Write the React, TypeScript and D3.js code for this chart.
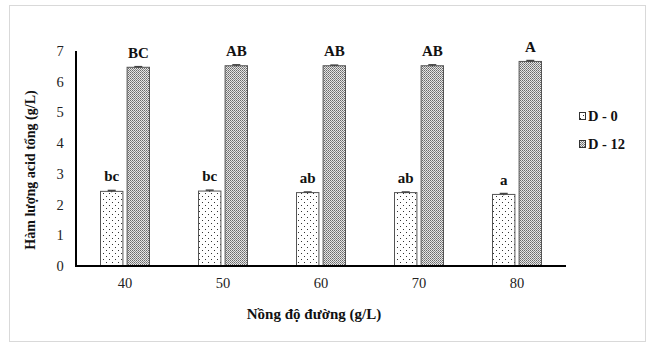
import React, { useEffect, useRef } from "react";
import * as d3 from "d3";

const categories = ["40", "50", "60", "70", "80"];
const seriesNames = ["D - 0", "D - 12"];
const d0Values = [2.43, 2.44, 2.39, 2.39, 2.33];
const d12Values = [6.47, 6.52, 6.52, 6.52, 6.66];
const d0Err = [0.03, 0.03, 0.02, 0.02, 0.03];
const d12Err = [0.02, 0.03, 0.02, 0.03, 0.03];
const d0Letters = ["bc", "bc", "ab", "ab", "a"];
const d12Letters = ["BC", "AB", "AB", "AB", "A"];
const yTicks = [0, 1, 2, 3, 4, 5, 6, 7];

const App = () => {
  const svgRef = useRef<SVGSVGElement>(null);

  useEffect(() => {
    const w = 651;
    const h = 343;
    const svg = d3.select(svgRef.current).attr("width", w).attr("height", h);
    svg.selectAll("*").remove();

    const font = "Liberation Serif";

    // patterns
    const defs = svg.append("defs");
    const p0 = defs.append("pattern")
      .attr("id", "pat0").attr("patternUnits", "userSpaceOnUse")
      .attr("width", 6).attr("height", 6);
    p0.append("rect").attr("width", 6).attr("height", 6).attr("fill", "#fff");
    p0.append("rect").attr("x", 1).attr("y", 1).attr("width", 1).attr("height", 1).attr("fill", "#333");
    p0.append("rect").attr("x", 4).attr("y", 4).attr("width", 1).attr("height", 1).attr("fill", "#333");

    const p1 = defs.append("pattern")
      .attr("id", "pat1").attr("patternUnits", "userSpaceOnUse")
      .attr("width", 2).attr("height", 2);
    p1.append("rect").attr("width", 2).attr("height", 2).attr("fill", "#e6e6e6");
    p1.append("rect").attr("width", 1).attr("height", 1).attr("fill", "#6a6a6a");
    p1.append("rect").attr("x", 1).attr("y", 1).attr("width", 1).attr("height", 1).attr("fill", "#8a8a8a");

    // outer frame
    svg.append("rect")
      .attr("x", 9.5).attr("y", 5.5).attr("width", 636).attr("height", 336)
      .attr("fill", "#fff").attr("stroke", "#d9d9d9");

    const left = 76, right = 566, top = 51, bottom = 266;

    const x0 = d3.scaleBand().domain(categories).range([left, right]);
    const x1 = d3.scaleBand().domain(seriesNames).range([0, 50]).paddingInner(0.12);
    const y = d3.scaleLinear().domain([0, 7]).range([bottom, top]);

    const series = [
      { name: seriesNames[0], values: d0Values, err: d0Err, letters: d0Letters, fill: "url(#pat0)" },
      { name: seriesNames[1], values: d12Values, err: d12Err, letters: d12Letters, fill: "url(#pat1)" },
    ];

    // y tick labels
    svg.append("g")
      .selectAll("text")
      .data(yTicks)
      .enter()
      .append("text")
      .attr("x", 60)
      .attr("y", d => y(d) + 5)
      .attr("text-anchor", "middle")
      .attr("font-family", font)
      .attr("font-size", 14.5)
      .attr("fill", "#222")
      .text(d => d);

    // bars
    series.forEach(s => {
      const g = svg.append("g");
      const bx = (i: number) => (x0(categories[i]) as number) + x0.bandwidth() / 2 - 25 + (x1(s.name) as number);
      g.selectAll("rect")
        .data(s.values)
        .enter()
        .append("rect")
        .attr("x", (d, i) => bx(i) + 0.5)
        .attr("y", d => y(d))
        .attr("width", x1.bandwidth() - 1)
        .attr("height", d => bottom - y(d))
        .attr("fill", s.fill)
        .attr("stroke", "#555")
        .attr("stroke-width", 1);

      // error bars
      s.values.forEach((v, i) => {
        const cx = bx(i) + x1.bandwidth() / 2;
        g.append("line")
          .attr("x1", cx).attr("x2", cx)
          .attr("y1", y(v + s.err[i])).attr("y2", y(v - s.err[i]))
          .attr("stroke", "#444").attr("stroke-width", 1);
        g.append("line")
          .attr("x1", cx - 4).attr("x2", cx + 4)
          .attr("y1", y(v + s.err[i])).attr("y2", y(v + s.err[i]))
          .attr("stroke", "#444").attr("stroke-width", 1.5);
      });

      // significance letters
      g.selectAll("text")
        .data(s.values)
        .enter()
        .append("text")
        .attr("x", (d, i) => bx(i) + x1.bandwidth() / 2)
        .attr("y", (d, i) => y(d + s.err[i]) - 9)
        .attr("text-anchor", "middle")
        .attr("font-family", font)
        .attr("font-size", 15)
        .attr("font-weight", "bold")
        .attr("fill", "#111")
        .text((d, i) => s.letters[i]);
    });

    // axes lines
    svg.append("line")
      .attr("x1", left).attr("x2", left).attr("y1", top).attr("y2", bottom + 1)
      .attr("stroke", "#000").attr("stroke-width", 2);
    svg.append("line")
      .attr("x1", left - 1).attr("x2", right).attr("y1", bottom).attr("y2", bottom)
      .attr("stroke", "#000").attr("stroke-width", 2);

    // x tick labels
    svg.append("g")
      .selectAll("text")
      .data(categories)
      .enter()
      .append("text")
      .attr("x", d => (x0(d) as number) + x0.bandwidth() / 2)
      .attr("y", 288)
      .attr("text-anchor", "middle")
      .attr("font-family", font)
      .attr("font-size", 14.5)
      .attr("fill", "#222")
      .text(d => d);

    // axis titles
    svg.append("text")
      .attr("x", 314)
      .attr("y", 319)
      .attr("text-anchor", "middle")
      .attr("font-family", font)
      .attr("font-size", 15)
      .attr("font-weight", "bold")
      .attr("fill", "#111")
      .text("Nồng độ đường (g/L)");

    svg.append("text")
      .attr("transform", "translate(35,170) rotate(-90)")
      .attr("text-anchor", "middle")
      .attr("font-family", font)
      .attr("font-size", 14)
      .attr("font-weight", "bold")
      .attr("fill", "#111")
      .text("Hàm lượng acid tổng (g/L)");

    // legend
    const legend = svg.append("g");
    series.forEach((s, i) => {
      const ly = 116 + i * 28;
      legend.append("rect")
        .attr("x", 579.5).attr("y", ly - 3.5).attr("width", 6).attr("height", 7)
        .attr("fill", s.fill).attr("stroke", "#333");
      legend.append("text")
        .attr("x", 588)
        .attr("y", ly + 5)
        .attr("font-family", font)
        .attr("font-size", 14.5)
        .attr("font-weight", "bold")
        .attr("fill", "#111")
        .text(s.name);
    });
  }, []);

  return (
    <div>
      <svg ref={svgRef} style={{ position: "absolute", left: 0, top: 0 }}></svg>
    </div>
  );
};

export default App;
